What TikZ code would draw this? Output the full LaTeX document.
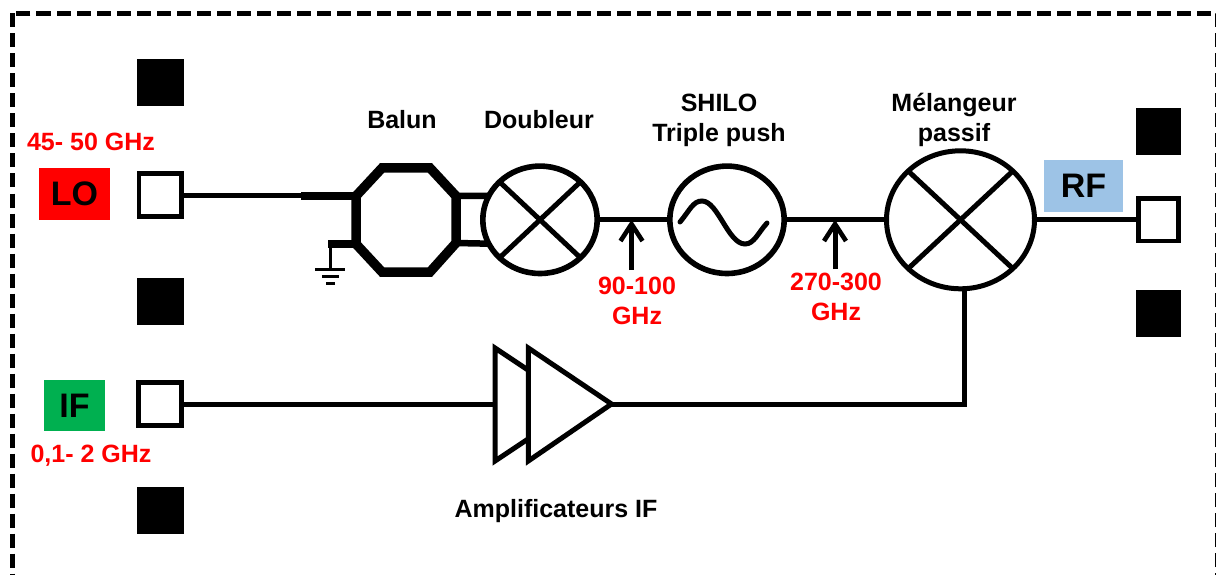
\documentclass[tikz,border=0pt]{standalone}
\usepackage{fontspec}
\setmainfont{Liberation Sans}
\usepackage{tikz}
\usetikzlibrary{arrows.meta,positioning,calc,shapes.geometric}
\definecolor{lored}{HTML}{FF0000}
\definecolor{ifgreen}{HTML}{00B050}
\definecolor{rfblue}{HTML}{9DC3E6}
\tikzset{
  port/.style={draw=black,fill=white,line width=4.7pt,minimum width=#1,minimum height=42.5pt,inner sep=0pt,outer sep=0pt},
  port/.default=42.5pt,
  darkpad/.style={fill=black,minimum width=#1,minimum height=47pt,inner sep=0pt,outer sep=0pt},
  darkpad/.default=47pt,
  sigbox/.style={minimum width=#1,minimum height=51.5pt,inner sep=0pt,font=\fontsize{34}{36}\bfseries\selectfont},
  lbl/.style={align=center,inner sep=0pt,font=\fontsize{25}{30}\bfseries\selectfont},
  freq/.style={lbl,text=lored},
  wire/.style={line width=5pt},
  blockc/.style={ellipse,draw=black,line width=5.6pt,inner sep=0pt,outer sep=0pt,minimum width=114.4pt,minimum height=107.4pt},
  mixer/.style={blockc,path picture={
    \draw[line width=5pt] (path picture bounding box.north west) -- (path picture bounding box.south east);
    \draw[line width=5pt] (path picture bounding box.south west) -- (path picture bounding box.north east);}},
  probe/.style={-{Straight Barb[length=17pt,width=22pt,line width=4.6pt]},line width=5pt},
}
\begin{document}
\begin{tikzpicture}[x=1pt,y=-1pt]
  \useasboundingbox (0,0) rectangle (1216,575);
  \draw[line width=5pt,dash pattern=on 14pt off 6pt] (12.5,13.5) rectangle (1217,578);
  \node[darkpad] (p1) at (160.5,82.5) {};
  \node[port] (lopad) at (160.3,195) {};
  \node[darkpad] (p2) at (160.5,301.5) {};
  \node[port] (ifpad) at (160,404) {};
  \node[darkpad] (p3) at (160,510) {};
  \node[darkpad=45pt] (p4) at (1158.5,131.5) {};
  \node[port=40pt] (rfpad) at (1158.3,219.8) {};
  \node[darkpad=45pt] (p5) at (1158,313) {};
  \node[sigbox=71pt,fill=lored] (lo) at (74.5,194) {LO};
  \node[sigbox=61pt,fill=ifgreen] (if) at (74.5,405.5) {IF};
  \node[sigbox=79pt,fill=rfblue] (rf) at (1083.5,186) {RF};
  \node[freq,above=17pt of lo,xshift=16.5pt] (lof) {45- 50 GHz};
  \node[freq,below=13pt of if,xshift=16.5pt] (iff) {0,1- 2 GHz};
  \node[mixer] (dbl) at (540,219.8) {};
  \node[blockc] (osc) at (727,219.8) {};
  \node[mixer,line width=5pt,minimum width=148pt,minimum height=138pt] (mix) at (960.5,219.8) {};
  \coordinate (b1) at (356,196);
  \coordinate (b2) at (356,244);
  \coordinate (b3) at (456,196);
  \coordinate (b4) at (456,243);
  \coordinate (stub) at (301,196);
  \coordinate (gnd) at (330,244);
  \coordinate (g0) at (330,269);
  \coordinate (mixb) at ([xshift=3.5pt]mix.south);
  \coordinate (corner) at (mixb |- ifpad);
  \coordinate (ampin) at (495,404);
  \coordinate (ampout) at (611.5,404);
  \coordinate (f1) at (631.5,270);
  \coordinate (f2) at (835,269);
  \draw[line width=9.5pt,line join=miter] (382,168) -- (430,168) -- (b3) -- (b4) -- (430,272) -- (382,272) -- (b2) -- (b1) -- cycle;
  \draw[line width=8pt] (stub) -- (b1);
  \draw[line width=8pt] (328,244) -- (b2);
  \draw[line width=6.5pt] (b3) -- (dbl.155);
  \draw[line width=6.5pt] (b4) -- (dbl.205);
  \draw[wire] (lopad) -- (lopad -| stub);
  \draw[line width=3pt] (gnd) -- (g0);
  \draw[line width=3pt] (315,269) -- (345,269);
  \draw[line width=3pt] (322,276) -- (339,276);
  \draw[line width=3pt] (326,283) -- (335,283);
  \foreach \x/\y in {dbl/osc,osc/mix,mix/rfpad} \draw[wire] (\x) -- (\y);
  \draw[line width=5pt,line cap=round] (680,222) .. controls (690,210) and (693,201) .. (702,201) .. controls (718,201) and (728,244) .. (745,244) .. controls (754,244) and (758,233) .. (767,223);
  \draw[probe] (f1) -- (f1 |- osc);
  \draw[probe] (f2) -- (f2 |- osc);
  \draw[wire] (ifpad) -- (ampin);
  \draw[wire] (mixb) -- (corner) -- (ampout);
  \draw[line width=5pt,line join=miter] (528,370) -- (ampin |- 0,348) -- (ampin |- 0,461) -- (528,439);
  \draw[line width=5pt,line join=miter,fill=white] (528.3,348) -- (ampout) -- (528.3,461) -- cycle;
  \node[lbl] (balun) at (402,120) {Balun};
  \node[lbl] (dbllbl) at (539,120) {Doubleur};
  \node[lbl] (osclbl) at (719,120.5) {SHILO\\Triple push};
  \node[lbl] (mixlbl) at (954,119.5) {Mélangeur\\passif};
  \node[lbl] (amplbl) at (556,511) {Amplificateurs IF};
  \node[freq] (f1lbl) at (637,301) {90-100\\GHz};
  \node[freq] (f2lbl) at (836,297) {270-300\\GHz};
\end{tikzpicture}
\end{document}
